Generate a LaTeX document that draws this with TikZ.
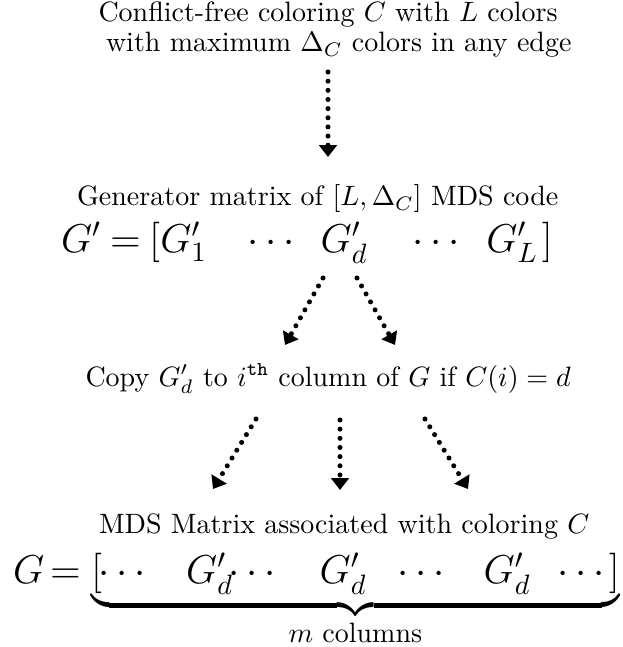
\documentclass[tikz,border=0pt]{standalone}
\usepackage{amsmath}
\usepackage{exscale}
\usetikzlibrary{arrows.meta}
\begin{document}
\begin{tikzpicture}[x=0.357143pt,y=-0.357143pt,
  txt/.style={inner sep=0pt, outer sep=0pt, anchor=base west},
  eq/.style={inner sep=0pt, outer sep=0pt, anchor=base west, font=\Large},
  dotarrow/.style={line width=1.8pt, line cap=round, dash pattern=on 0pt off 3.27pt,
    -{Triangle[width=6.2pt,length=4.2pt]}}
]
\newcommand{\slot}[1]{\makebox[0pt]{$#1$}}
\useasboundingbox (0,0) rectangle (622,647);
% texts
\node[txt] (l1) at (98.5,22) {Conflict-free coloring $C$ with $L$ colors};
\node[txt] (l2) at (106,52) {with maximum $\Delta_C$ colors in any edge};
\node[txt] (gen) at (77,206) {Generator matrix of $[L,\Delta_C]$ MDS code};
\node[eq] (gp) at (61,252) {$G'$};
\node[eq] (gpe) at (110,252) {$=$};
\node[eq] (gpb) at (149,252) {$[\hspace{8.5pt}\slot{G'_1}\hspace{32.5pt}\slot{\cdots}\hspace{24.82pt}\slot{G'_d}\hspace{33.93pt}\slot{\cdots}\hspace{26.07pt}\slot{G'_L}\hspace{10.54pt}]$};
\node[txt] (copy) at (85.5,386) {Copy $G'_d$ to $i^{\texttt{th}}$ column of $G$ if $C(i)=d$};
\node[txt] (mds) at (99,533) {MDS Matrix associated with coloring $C$};
\node[eq] (gG) at (13,583) {$G$};
\node[eq] (gGe) at (50,583) {$=$};
\node[eq] (gb) at (91,583) {$\underbrace{[\hspace{8.32pt}\slot{\cdots}\hspace{30.18pt}\slot{G'_d}\hspace{16.4pt}\slot{\cdots}\hspace{31.28pt}\slot{G'_d}\hspace{28.93pt}\slot{\cdots}\hspace{29.64pt}\slot{G'_d}\hspace{27.5pt}\slot{\cdots}\hspace{8.75pt}]}_{m \text{ columns}}$};
% arrow end points
\coordinate (a1s) at (328,72);  \coordinate (a1e) at (328,157);
\coordinate (a2s) at (323,278); \coordinate (a2e) at (285,345);
\coordinate (a3s) at (357,278); \coordinate (a3e) at (395,345);
\coordinate (a4s) at (256,419); \coordinate (a4e) at (213,489);
\coordinate (a5s) at (340,420); \coordinate (a5e) at (340,490);
\coordinate (a6s) at (425,419); \coordinate (a6e) at (468,489);
\draw[dotarrow] (a1s) -- (a1e);
\draw[dotarrow] (a2s) -- (a2e);
\draw[dotarrow] (a3s) -- (a3e);
\draw[dotarrow] (a4s) -- (a4e);
\draw[dotarrow] (a5s) -- (a5e);
\draw[dotarrow] (a6s) -- (a6e);
\end{tikzpicture}
\end{document}
